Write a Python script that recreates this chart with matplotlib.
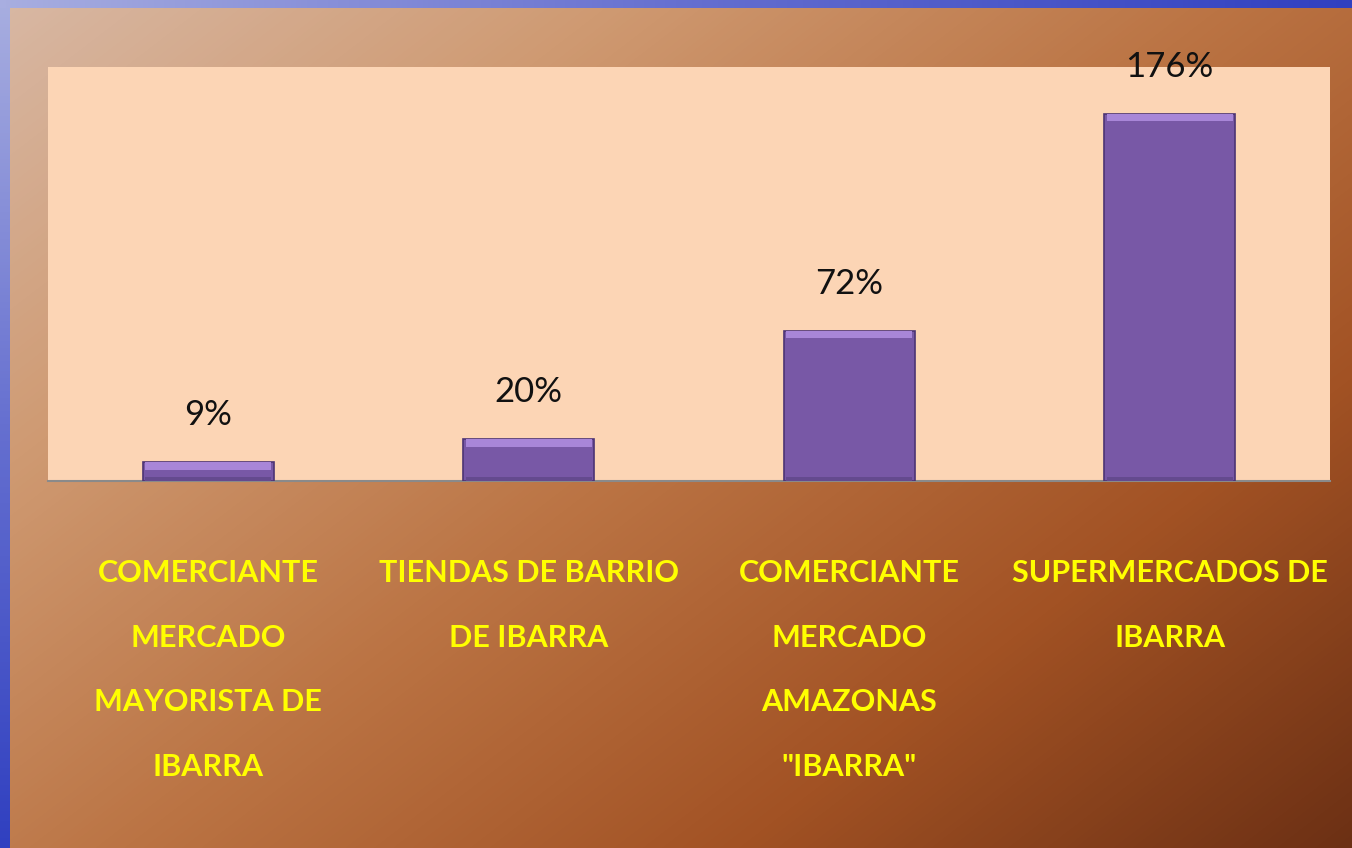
import numpy as np
import matplotlib.pyplot as plt
from matplotlib.colors import LinearSegmentedColormap

categories = [
    "COMERCIANTE\nMERCADO\nMAYORISTA DE\nIBARRA",
    "TIENDAS DE BARRIO\nDE IBARRA",
    "COMERCIANTE\nMERCADO\nAMAZONAS\n\"IBARRA\"",
    "SUPERMERCADOS DE\nIBARRA",
]
values = [9, 20, 72, 176]
value_labels = ["9%", "20%", "72%", "176%"]

W, H = 1352, 848
fig = plt.figure(figsize=(W / 100, H / 100), dpi=100)

# slide background: diagonal brown gradient
bg = fig.add_axes([0, 0, 1, 1], zorder=0)
bg.set_axis_off()
yy, xx = np.mgrid[0:H, 0:W]
t = (xx / W * 0.55 + yy / H * 0.45)
slide_cmap = LinearSegmentedColormap.from_list(
    "slide",
    [(0.0, "#d8b8a4"), (0.25, "#cf9a72"), (0.5, "#bb7444"), (0.75, "#a25224"), (1.0, "#6c3014")],
)
bg.imshow(t, cmap=slide_cmap, extent=[0, W, H, 0], aspect="auto", vmin=0, vmax=1)
# blue frame at left and top
blue = LinearSegmentedColormap.from_list("blue", ["#a8aee0", "#6670d0", "#3040c0"])
bg.imshow(np.linspace(0, 1, H)[:, None], cmap=blue, extent=[0, 10, H, 0], aspect="auto")
bg.imshow(np.linspace(0, 0.6, W)[None, :], cmap=blue, extent=[0, W, 8, 0], aspect="auto")
bg.set_xlim(0, W)
bg.set_ylim(H, 0)

# chart plot area
ax = fig.add_axes([48 / W, 1 - 481 / H, 1282 / W, 414 / H], zorder=2)
ax.set_facecolor("#fcd5b5")
x = np.arange(len(values))
width = 0.41
ax.bar(x, values, width=width, color="#7858a6", edgecolor="#4c3474", linewidth=1.2, zorder=3)
# bevel: lighter top band and slightly darker foot
bevel = 3.5
ax.bar(x, [bevel] * len(values), bottom=[v - bevel for v in values], width=width * 0.96,
       color="#a886d8", edgecolor="none", zorder=4)
ax.bar(x, [min(2.0, v * 0.2) for v in values], width=width * 0.96,
       color="#644a8e", edgecolor="none", zorder=4)
for xi, v, lab in zip(x, values, value_labels):
    ax.text(xi, v + 15, lab, ha="center", va="bottom", fontsize=25,
            family="Lato", color="#111111", zorder=5, clip_on=False)

ax.set_xlim(-0.5, 3.5)
ax.set_ylim(0, 198.5)
ax.set_yticks([])
ax.set_xticks(x)
ax.set_xticklabels(categories, fontsize=22, fontweight="bold", family="Lato",
                   color="#ffff00", linespacing=2.6)
ax.tick_params(axis="x", length=0, pad=56)
for s in ["top", "right", "left"]:
    ax.spines[s].set_visible(False)
ax.spines["bottom"].set_color("#8a8a8a")
ax.spines["bottom"].set_linewidth(1.5)

fig.savefig("out.png", dpi=100)
